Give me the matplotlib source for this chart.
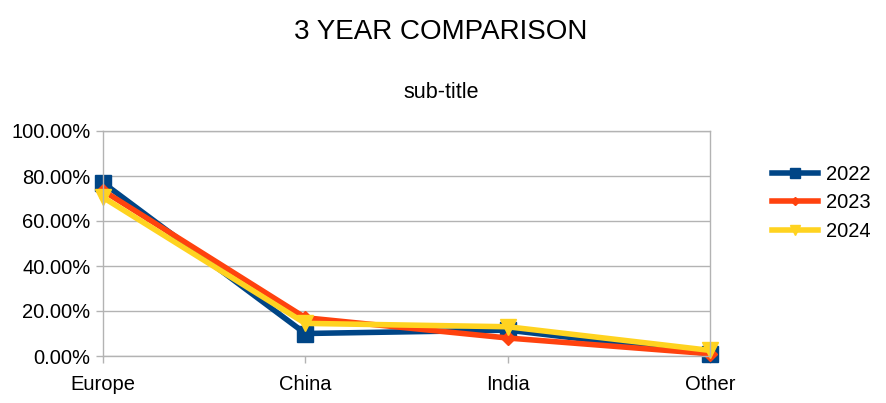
import matplotlib
matplotlib.use("Agg")
import matplotlib.pyplot as plt
from matplotlib.ticker import FuncFormatter, MultipleLocator

plt.rcParams['font.family'] = ['Liberation Sans', 'DejaVu Sans']

categories = ["Europe", "China", "India", "Other"]
series_names = ["2022", "2023", "2024"]
values_2022 = [0.77, 0.10, 0.115, 0.01]
values_2023 = [0.735, 0.17, 0.08, 0.01]
values_2024 = [0.705, 0.145, 0.13, 0.025]

colors = ["#004586", "#ff420e", "#ffd320"]
markers = ["s", "D", "v"]
msizes = [11, 7, 12]

fig = plt.figure(figsize=(8.87, 4.03), dpi=100)
ax = fig.add_axes([103/887, 1-356/403, (710-103)/887, (356-131)/403])

x = list(range(len(categories)))
for vals, name, c, m, ms in zip([values_2022, values_2023, values_2024], series_names, colors, markers, msizes):
    ax.plot(x, vals, color=c, lw=4, marker=m, ms=ms, label=name, solid_joinstyle='miter', clip_on=False)

ax.set_xlim(0, len(categories)-1)
ax.set_ylim(0, 1.0)
ax.set_xticks(x)
ax.set_xticklabels(categories)
ax.yaxis.set_major_locator(MultipleLocator(0.2))
ax.yaxis.set_major_formatter(FuncFormatter(lambda v, p: f"{v*100:.2f}%"))
ax.grid(axis='y', color='#b3b3b3', lw=1)
ax.set_axisbelow(True)
for s in ax.spines.values():
    s.set_color('#b3b3b3')
    s.set_linewidth(1)
ax.tick_params(axis='both', colors='#b3b3b3', labelcolor='#000000', labelsize=14.5, length=5, width=1)
ax.tick_params(axis='x', pad=9)
ax.tick_params(axis='y', pad=4)

fig.text(0.497, 1-32/403, "3 YEAR COMPARISON", ha='center', va='center', fontsize=20)
fig.text(0.497, 1-92/403, "sub-title", ha='center', va='center', fontsize=15.5)

fig.legend(loc='center left', bbox_to_anchor=(754/887, 1-203/403), frameon=False,
           fontsize=14.5, handlelength=2.3, labelspacing=0.45, handletextpad=0.4, markerscale=0.65)

fig.savefig("out.png", dpi=100)
